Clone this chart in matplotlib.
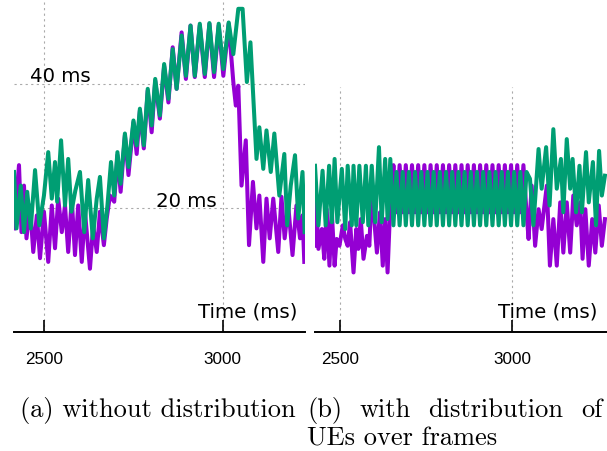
import matplotlib
matplotlib.use("Agg")
import matplotlib.pyplot as plt

# (a) without distribution
a_purple_t = [2415, 2429, 2436, 2443, 2450, 2460, 2469, 2479, 2488, 2499, 2511, 2521, 2530, 2539, 2549, 2558,
              2567, 2577, 2586, 2595, 2605, 2614, 2628, 2637, 2647, 2656, 2667, 2675, 2684, 2696, 2705, 2714,
              2726, 2736, 2750, 2759, 2768, 2779, 2790, 2801, 2811, 2824, 2836, 2848, 2860, 2871, 2885, 2897,
              2910, 2922, 2936, 2950, 2963, 2976, 2989, 3002, 3017, 3030, 3037, 3044, 3053, 3065, 3074, 3085,
              3095, 3103, 3114, 3123, 3132, 3142, 3156, 3165, 3174, 3184, 3196, 3207, 3217, 3224, 3229]
a_purple_v = [16.7, 26.9, 16.1, 23.6, 15.1, 20.4, 12.9, 18.8, 11.9, 19.4, 11.3, 20.4, 13.5, 21.5, 16.1, 20.4,
              12.9, 21.5, 12.4, 20.4, 11.3, 19.4, 10.2, 17.2, 12.9, 19.4, 14.0, 18.3, 22.0, 21.0, 28.5, 22.6,
              31.7, 25.3, 33.8, 28.7, 35.7, 29.6, 38.9, 32.2, 40.5, 34.4, 42.9, 37.0, 45.9, 39.2, 48.3, 40.8,
              49.4, 41.1, 49.4, 41.1, 49.7, 41.1, 49.4, 41.3, 49.7, 40.3, 36.5, 39.7, 23.6, 30.9, 14.0, 24.2,
              16.7, 22.0, 11.3, 21.5, 15.1, 21.5, 12.9, 21.8, 15.1, 20.4, 12.4, 20.4, 15.1, 18.8, 11.3]
a_green_t = [2415, 2422, 2434, 2443, 2452, 2462, 2474, 2486, 2499, 2511, 2521, 2530, 2536, 2547, 2558, 2567,
             2576, 2587, 2600, 2612, 2623, 2636, 2647, 2656, 2667, 2677, 2687, 2696, 2705, 2714, 2726, 2736,
             2750, 2759, 2768, 2779, 2790, 2801, 2811, 2824, 2836, 2848, 2860, 2871, 2885, 2897, 2910, 2922,
             2936, 2950, 2963, 2976, 2989, 3002, 3017, 3030, 3044, 3056, 3068, 3078, 3095, 3103, 3114, 3123,
             3135, 3145, 3159, 3173, 3181, 3191, 3203, 3212, 3224, 3230]
a_green_v = [25.8, 16.7, 23.6, 16.1, 22.6, 16.7, 26.1, 17.2, 22.0, 29.0, 21.5, 27.4, 21.0, 30.9, 20.4, 27.9,
             19.4, 22.8, 25.8, 16.1, 24.5, 15.1, 21.5, 25.0, 15.1, 20.4, 27.4, 22.0, 29.0, 23.9, 32.0, 26.6,
             34.1, 30.1, 36.0, 30.1, 39.2, 33.3, 40.8, 34.9, 43.2, 37.6, 45.6, 39.2, 47.8, 41.3, 49.4, 41.3,
             49.7, 41.6, 49.8, 41.9, 49.7, 42.4, 49.9, 44.8, 52.1, 52.1, 40.3, 46.7, 27.9, 33.0, 26.3, 32.5,
             25.8, 32.0, 22.0, 28.7, 17.2, 23.6, 28.5, 18.3, 25.8, 16.1]

# (b) with distribution of UEs over frames
b_purple_t = [2426, 2429, 2436, 2446, 2453, 2460, 2468, 2475, 2483, 2489, 2497, 2507, 2514, 2521, 2528, 2538,
              2546, 2552, 2559, 2567, 2577, 2584, 2591, 2598, 2606, 2615, 2623, 2630, 2637, 2644, 2649,
              2654, 2663, 2672, 2681, 2690, 2699, 2708, 2717, 2726, 2735, 2744, 2753, 2762, 2771, 2780, 2789,
              2798, 2807, 2816, 2825, 2834, 2843, 2852, 2861, 2870, 2879, 2888, 2897, 2906, 2915, 2924, 2933,
              2942, 2951, 2960, 2969, 2978, 2987, 2996, 3005, 3014, 3023, 3032, 3041,
              3047, 3056, 3066, 3076, 3085, 3100, 3109, 3119, 3129, 3139, 3148, 3158, 3168, 3177, 3187, 3197,
              3204, 3212, 3222, 3232, 3241, 3251, 3260, 3269]
b_purple_v = [13.9, 22.0, 13.4, 16.6, 11.8, 19.8, 10.7, 19.3, 10.7, 15.0, 13.9, 17.2, 15.0, 13.9, 17.7, 9.6,
              16.6, 13.4, 18.2, 11.8, 15.5, 13.9, 23.1, 18.2, 12.8, 19.3, 10.7, 18.2, 9.6, 19.3, 23.1,
              26.9, 19.3, 26.9, 19.3, 26.9, 19.3, 26.9, 19.3, 26.9, 19.3, 26.9, 19.3, 26.9, 19.3, 26.9, 19.3,
              26.9, 19.3, 26.9, 19.3, 26.9, 19.3, 26.9, 19.3, 26.9, 19.3, 26.9, 19.3, 26.9, 19.3, 26.9, 19.3,
              26.9, 19.3, 26.9, 19.3, 26.9, 19.3, 26.9, 19.3, 26.9, 19.3, 26.9, 19.3,
              15.0, 23.6, 13.9, 19.8, 16.6, 23.6, 10.7, 18.2, 10.7, 20.9, 12.8, 20.9, 12.8, 22.0, 17.2, 20.9,
              11.8, 19.8, 10.7, 18.2, 12.8, 20.4, 13.9, 18.2]
b_green_t = [2426, 2436, 2448, 2457, 2467, 2475, 2483, 2491, 2504, 2514, 2521, 2533, 2538, 2546, 2555, 2565,
             2574, 2581, 2591, 2601, 2612, 2620, 2630, 2637, 2645,
             2654, 2663, 2672, 2681, 2690, 2699, 2708, 2717, 2726, 2735, 2744, 2753, 2762, 2771, 2780, 2789,
             2798, 2807, 2816, 2825, 2834, 2843, 2852, 2861, 2870, 2879, 2888, 2897, 2906, 2915, 2924, 2933,
             2942, 2951, 2960, 2969, 2978, 2987, 2996, 3005, 3014, 3023, 3032, 3041,
             3051, 3061, 3076, 3085, 3098, 3108, 3119, 3129, 3141, 3148, 3158, 3168, 3175, 3185, 3195, 3202,
             3214, 3222, 3234, 3243, 3252, 3260, 3269]
b_green_v = [26.8, 17.2, 26.0, 17.2, 26.8, 17.7, 27.9, 17.7, 26.3, 16.6, 26.8, 17.2, 26.8, 17.2, 26.8, 17.7,
             26.8, 17.2, 26.8, 17.7, 29.8, 17.7, 27.9, 18.2, 27.9,
             17.2, 25.8, 17.2, 25.8, 17.2, 25.8, 17.2, 25.8, 17.2, 25.8, 17.2, 25.8, 17.2, 25.8, 17.2, 25.8,
             17.2, 25.8, 17.2, 25.8, 17.2, 25.8, 17.2, 25.8, 17.2, 25.8, 17.2, 25.8, 17.2, 25.8, 17.2, 25.8,
             17.2, 25.8, 17.2, 25.8, 17.2, 25.8, 17.2, 25.8, 17.2, 25.8, 17.2, 25.8,
             24.7, 17.2, 29.5, 23.1, 29.8, 20.4, 32.7, 23.1, 27.9, 19.3, 31.1, 23.1, 27.9, 19.3, 26.8, 19.3,
             29.0, 20.9, 27.4, 17.2, 29.2, 22.0, 25.2]

xticks = [2500, 3000]
ygrid = [20, 40]

PURPLE = '#9400d3'
GREEN = '#009e73'
W, H = 607, 452

fig = plt.figure(figsize=(W / 100, H / 100), dpi=100)


def box(x0, y0, x1, y1):
    return [x0 / W, 1 - y1 / H, (x1 - x0) / W, (y1 - y0) / H]


def px(x, y):
    return x / W, 1 - y / H


ax_a = fig.add_axes(box(14, 3, 305, 333))
ax_b = fig.add_axes(box(315, 88, 607, 333))

for ax, pt, pv, gt, gv in [(ax_a, a_purple_t, a_purple_v, a_green_t, a_green_v),
                           (ax_b, b_purple_t, b_purple_v, b_green_t, b_green_v)]:
    ax.plot(pt, pv, color=PURPLE, lw=2.9, zorder=3)
    ax.plot(gt, gv, color=GREEN, lw=2.9, zorder=4)
    for s in ['left', 'right', 'top']:
        ax.spines[s].set_visible(False)
    ax.spines['bottom'].set_linewidth(1.4)
    ax.set_xticks(xticks)
    ax.tick_params(axis='x', direction='in', length=8.5, width=1.2, pad=14, labelsize=12.3)
    for lab in ax.get_xticklabels():
        lab.set_fontfamily('Liberation Sans')
    ax.tick_params(axis='y', left=False, labelleft=False)
    ax.grid(True, color='#aaaaaa', lw=0.8, linestyle=(0, (2, 3)), zorder=1)
    ax.set_facecolor('none')

ax_a.set_xlim(2415, 3231)
ax_a.set_ylim(0, 53.2)
ax_a.set_yticks(ygrid)
ax_b.set_xlim(2426, 3275)
ax_b.set_ylim(0, 39.5)
ax_b.set_yticks([])

fig.text(*px(30, 82), '40 ms', fontsize=14.2, va='baseline', ha='left')
fig.text(*px(156, 207), '20 ms', fontsize=14.2, va='baseline', ha='left')
fig.text(*px(297, 317), 'Time (ms)', fontsize=14.2, va='baseline', ha='right')
fig.text(*px(597, 317), 'Time (ms)', fontsize=14.2, va='baseline', ha='right')

cap = dict(fontfamily='cmr10', fontsize=19, va='baseline')
fig.text(*px(20, 417), '(a) without distribution', ha='left', **cap)

# justified first line of caption (b)
words = ['(b)', 'with', 'distribution', 'of']
x_left, x_right = 307, 602
texts = [fig.text(*px(x_left, 417), w, ha='left', **cap) for w in words]
renderer = fig.canvas.get_renderer()
widths = [t.get_window_extent(renderer).width for t in texts]
gap = (x_right - x_left - sum(widths)) / (len(words) - 1)
x = x_left
for t, w in zip(texts, widths):
    t.set_position(px(x, 417))
    x += w + gap
fig.text(*px(307, 446), 'UEs over frames', ha='left', **cap)

fig.savefig('out.png', dpi=100)
